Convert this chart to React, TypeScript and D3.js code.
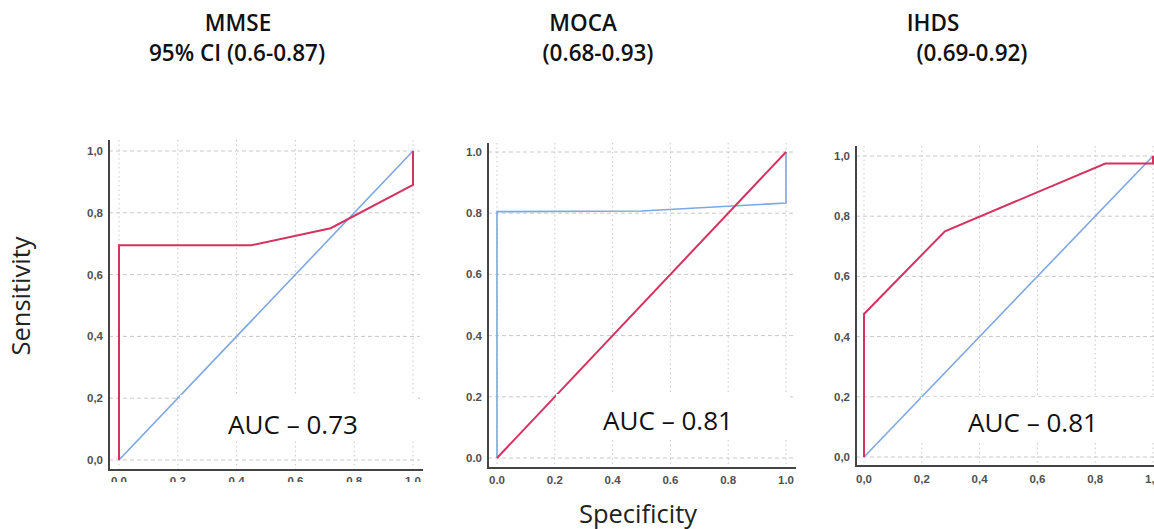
import React from 'react';
import * as d3 from 'd3';

type Pt = [number, number];

const tickValues = [0, 0.2, 0.4, 0.6, 0.8, 1];

const titles = ['MMSE', 'MOCA', 'IHDS'];
const ciLabels = ['95% CI (0.6-0.87)', '(0.68-0.93)', '(0.69-0.92)'];
const aucLabels = ['AUC \u2013 0.73', 'AUC \u2013 0.81', 'AUC \u2013 0.81'];

// ROC points (x = 1 - specificity, y = sensitivity)
const mmseRoc: Pt[] = [[0, 0], [0, 0.695], [0.45, 0.695], [0.72, 0.75], [1, 0.89], [1, 1]];
const mocaRoc: Pt[] = [[0, 0], [0, 0.805], [0.5, 0.807], [1, 0.833], [1, 1]];
const ihdsRoc: Pt[] = [[0, 0], [0, 0.475], [0.28, 0.75], [0.835, 0.975], [1, 0.975], [1, 1]];
const reference: Pt[] = [[0, 0], [1, 1]];

const RED = '#d4335f';
const BLUE = '#7da7e2';

const commaFmt = d3
  .formatLocale({ decimal: ',', thousands: '.', grouping: [3], currency: ['', ''] })
  .format('.1f');
const dotFmt = d3.format('.1f');

const panels = [
  {
    curve: mmseRoc, refColor: BLUE, fmt: commaFmt,
    xr: [119, 413], yr: [460, 151], axisX: 109, axisY: 470, top: 140, right: 420,
    tickBase: 485, clip: 482, titleX: 238, ciX: 237, box: [180, 395, 238, 44], aucX: 228, aucY: 434,
  },
  {
    curve: mocaRoc, refColor: RED, fmt: dotFmt,
    xr: [497, 786], yr: [458, 152], axisX: 488, axisY: 468, top: 143, right: 793,
    tickBase: 484, clip: 529, titleX: 583, ciX: 598, box: [556, 394, 234, 44], aucX: 603, aucY: 430,
  },
  {
    curve: ihdsRoc, refColor: BLUE, fmt: commaFmt,
    xr: [864, 1153], yr: [457, 156], axisX: 856, axisY: 466, top: 146, right: 1160,
    tickBase: 483, clip: 529, titleX: 933, ciX: 972, box: [921, 397, 240, 44], aucX: 968, aucY: 432,
  },
];

const Panel = ({ p, i }: { p: any; i: number }) => {
  const x = d3.scaleLinear().domain([0, 1]).range(p.xr);
  const y = d3.scaleLinear().domain([0, 1]).range(p.yr);
  const line = d3.line<Pt>().x(d => x(d[0])).y(d => y(d[1]));
  // red is always drawn on top of blue
  const lines = [
    { d: p.refColor === RED ? p.curve : reference, c: BLUE, w: 1.6 },
    { d: p.refColor === RED ? reference : p.curve, c: RED, w: 2 },
  ];
  return (
    <g>
      <defs>
        <clipPath id={`clip${i}`}>
          <rect x={0} y={0} width={1154} height={p.clip} />
        </clipPath>
      </defs>
      {tickValues.map(t => (
        <line key={'h' + t} x1={p.axisX} x2={p.right} y1={y(t)} y2={y(t)}
          stroke="#c9c9c9" strokeWidth={1} strokeDasharray="4,3" />
      ))}
      {tickValues.map(t => (
        <line key={'v' + t} x1={x(t)} x2={x(t)} y1={p.top} y2={p.axisY}
          stroke="#c9c9c9" strokeWidth={1} strokeDasharray="1.5,3" />
      ))}
      {lines.map((l, k) => (
        <path key={k} d={line(l.d) || ''} fill="none" stroke={l.c} strokeWidth={l.w} />
      ))}
      <rect x={p.box[0]} y={p.box[1]} width={p.box[2]} height={p.box[3]} fill="#fff" />
      <line x1={p.axisX} x2={p.axisX} y1={p.top} y2={p.axisY + 1} stroke="#444" strokeWidth={2} />
      <line x1={p.axisX - 1} x2={p.right + 3} y1={p.axisY} y2={p.axisY} stroke="#444" strokeWidth={2} />
      <g fontFamily="'Liberation Sans', Arial, sans-serif" fontSize={11.5} fontWeight="bold" fill="#505050">
        {tickValues.map(t => (
          <text key={'yl' + t} x={p.axisX - 6} y={y(t)} dy="0.35em" textAnchor="end">{p.fmt(t)}</text>
        ))}
        <g clipPath={`url(#clip${i})`}>
          {tickValues.map(t => (
            <text key={'xl' + t} x={x(t)} y={p.tickBase} textAnchor="middle">{p.fmt(t)}</text>
          ))}
        </g>
      </g>
      <text x={p.aucX} y={p.aucY} fontFamily="'Open Sans', sans-serif" fontSize={26} fill="#111"
        textLength={130} lengthAdjust="spacingAndGlyphs">{aucLabels[i]}</text>
      <g fontFamily="'Open Sans', sans-serif" fontWeight={600} fontSize={22.5} fill="#111" textAnchor="middle">
        <text x={p.titleX} y={31}>{titles[i]}</text>
        <text x={p.ciX} y={61}>{ciLabels[i]}</text>
      </g>
    </g>
  );
};

export default function App() {
  return (
    <svg width={1154} height={529} style={{ position: 'absolute', left: 0, top: 0, background: '#fff' }}>
      <rect width={1154} height={529} fill="#fff" />
      {panels.map((p, i) => <Panel key={i} p={p} i={i} />)}
      <text transform="translate(30,296) rotate(-90)" textAnchor="middle" fontFamily="'Open Sans', sans-serif"
        fontSize={25.5} fill="#222">Sensitivity</text>
      <text x={638} y={523} textAnchor="middle" fontFamily="'Open Sans', sans-serif" fontSize={25.5} fill="#222">
        Specificity
      </text>
    </svg>
  );
}
